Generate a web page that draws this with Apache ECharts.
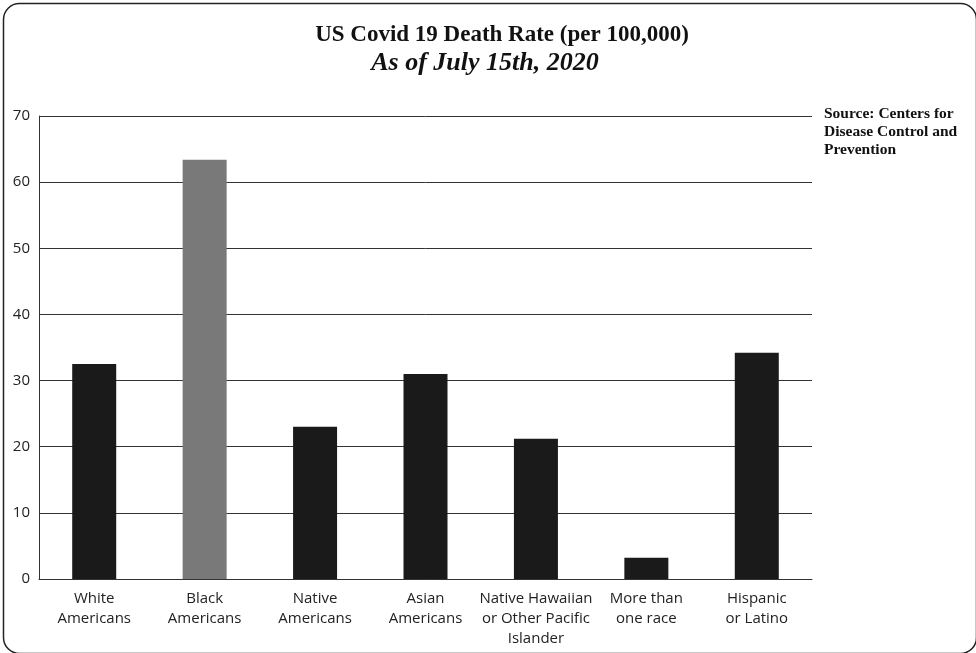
<!DOCTYPE html>
<html>
<head>
<meta charset="utf-8">
<script src="https://cdn.jsdelivr.net/npm/echarts@6/dist/echarts.min.js"></script>
<style>
html,body{margin:0;padding:0;background:#fff;}
#c{width:976px;height:653px;}
</style>
</head>
<body>
<div id="c"></div>
<script>
var categories = ['White\nAmericans', 'Black\nAmericans', 'Native\nAmericans', 'Asian\nAmericans', 'Native Hawaiian\nor Other Pacific\nIslander', 'More than\none race', 'Hispanic\nor Latino'];
var values = [32.5, 63.4, 23, 31, 21.2, 3.2, 34.2];
var barColors = ['#1a1a1a', '#797979', '#1a1a1a', '#1a1a1a', '#1a1a1a', '#1a1a1a', '#1a1a1a'];
var titleText = 'US Covid 19 Death Rate (per 100,000)';
var subtitleText = 'As of July 15th, 2020';
var sourceText = 'Source: Centers for\nDisease Control and\nPrevention';

var chart = echarts.init(document.getElementById('c'), null, {renderer: 'canvas'});
chart.setOption({
  animation: false,
  backgroundColor: '#ffffff',
  title: [
    {text: titleText, left: 497, top: 19, textAlign: 'center',
     textStyle: {fontFamily: 'Liberation Serif', fontWeight: 'bold', fontSize: 23, color: '#111'}},
    {text: subtitleText, left: 480, top: 45, textAlign: 'center',
     textStyle: {fontFamily: 'Liberation Serif', fontStyle: 'italic', fontWeight: 'bold', fontSize: 26, color: '#111'}},
    {text: sourceText, left: 819, top: 100,
     textStyle: {fontFamily: 'Liberation Serif', fontWeight: 'bold', fontSize: 15.5, lineHeight: 18, color: '#111'}}
  ],
  graphic: [{
    type: 'rect', left: 1, top: 1, silent: true,
    shape: {width: 973, height: 650, r: 16},
    style: {fill: 'none', stroke: '#222', lineWidth: 1.5}
  }],
  grid: {left: 39, right: 164, top: 116, bottom: 74, containLabel: false},
  xAxis: {
    type: 'category', data: categories,
    axisLine: {show: true, lineStyle: {color: '#333', width: 1}},
    axisTick: {show: false},
    axisLabel: {interval: 0, fontFamily: 'Open Sans', fontSize: 15, lineHeight: 20, color: '#222', margin: 10}
  },
  yAxis: {
    type: 'value', min: 0, max: 70, interval: 10,
    axisLine: {show: true, lineStyle: {color: '#333', width: 1}},
    axisTick: {show: false},
    axisLabel: {fontFamily: 'Open Sans', fontSize: 15, color: '#222', margin: 9},
    splitLine: {show: true, lineStyle: {color: '#333', width: 1}}
  },
  series: [{
    type: 'bar', barWidth: 44,
    data: values.map(function (v, i) { return {value: v, itemStyle: {color: barColors[i]}}; })
  }]
});
</script>
</body>
</html>
